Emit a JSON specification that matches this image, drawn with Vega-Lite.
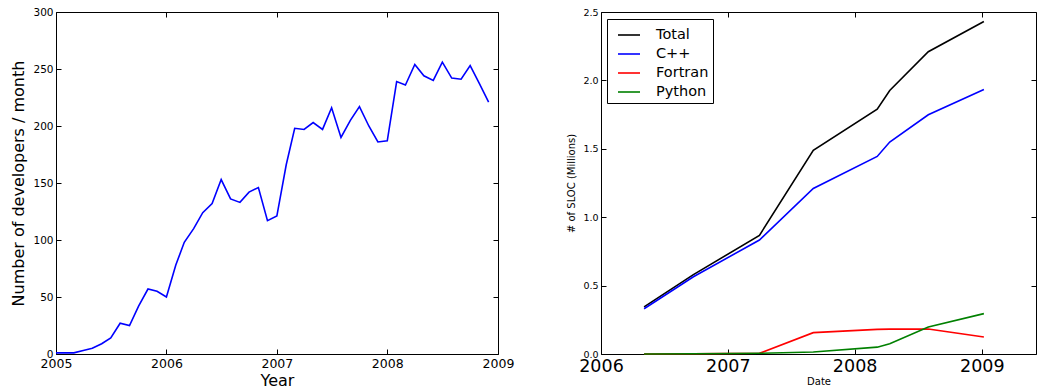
{
  "$schema": "https://vega.github.io/schema/vega-lite/v6.json",
  "padding": {"left": 10, "top": 6, "right": 0, "bottom": 0},
  "spacing": 51,
  "config": {
    "font": "DejaVu Sans",
    "view": {"stroke": "black", "strokeWidth": 1},
    "axis": {"grid": false, "domain": false, "tickColor": "black", "labelColor": "black", "titleColor": "black", "labelFont": "DejaVu Sans", "titleFont": "DejaVu Sans", "titleFontWeight": "normal", "tickSize": -5, "labelPadding": 8}
  },
  "datasets": {
    "devs": [
      {"month": "2005-01-01", "devs": 1}, {"month": "2005-02-01", "devs": 1}, {"month": "2005-03-01", "devs": 1},
      {"month": "2005-04-01", "devs": 3}, {"month": "2005-05-01", "devs": 5}, {"month": "2005-06-01", "devs": 9},
      {"month": "2005-07-01", "devs": 14}, {"month": "2005-08-01", "devs": 27}, {"month": "2005-09-01", "devs": 25},
      {"month": "2005-10-01", "devs": 42}, {"month": "2005-11-01", "devs": 57}, {"month": "2005-12-01", "devs": 55},
      {"month": "2006-01-01", "devs": 50}, {"month": "2006-02-01", "devs": 78}, {"month": "2006-03-01", "devs": 98},
      {"month": "2006-04-01", "devs": 110}, {"month": "2006-05-01", "devs": 124}, {"month": "2006-06-01", "devs": 132},
      {"month": "2006-07-01", "devs": 153}, {"month": "2006-08-01", "devs": 136}, {"month": "2006-09-01", "devs": 133},
      {"month": "2006-10-01", "devs": 142}, {"month": "2006-11-01", "devs": 146}, {"month": "2006-12-01", "devs": 117},
      {"month": "2007-01-01", "devs": 121}, {"month": "2007-02-01", "devs": 166}, {"month": "2007-03-01", "devs": 198},
      {"month": "2007-04-01", "devs": 197}, {"month": "2007-05-01", "devs": 203}, {"month": "2007-06-01", "devs": 197},
      {"month": "2007-07-01", "devs": 216}, {"month": "2007-08-01", "devs": 190}, {"month": "2007-09-01", "devs": 205},
      {"month": "2007-10-01", "devs": 217}, {"month": "2007-11-01", "devs": 200}, {"month": "2007-12-01", "devs": 186},
      {"month": "2008-01-01", "devs": 187}, {"month": "2008-02-01", "devs": 239}, {"month": "2008-03-01", "devs": 236},
      {"month": "2008-04-01", "devs": 254}, {"month": "2008-05-01", "devs": 244}, {"month": "2008-06-01", "devs": 240},
      {"month": "2008-07-01", "devs": 256}, {"month": "2008-08-01", "devs": 242}, {"month": "2008-09-01", "devs": 241},
      {"month": "2008-10-01", "devs": 253}, {"month": "2008-11-01", "devs": 237}, {"month": "2008-12-01", "devs": 221}
    ],
    "sloc": [
      {"date": "2006-05-05", "lang": "Total", "sloc": 0.344},
      {"date": "2006-09-24", "lang": "Total", "sloc": 0.58},
      {"date": "2007-04-02", "lang": "Total", "sloc": 0.867},
      {"date": "2007-09-04", "lang": "Total", "sloc": 1.489},
      {"date": "2008-03-06", "lang": "Total", "sloc": 1.79},
      {"date": "2008-04-11", "lang": "Total", "sloc": 1.926},
      {"date": "2008-07-31", "lang": "Total", "sloc": 2.21},
      {"date": "2009-01-07", "lang": "Total", "sloc": 2.43},
      {"date": "2006-05-05", "lang": "C++", "sloc": 0.331},
      {"date": "2006-09-24", "lang": "C++", "sloc": 0.565},
      {"date": "2007-04-02", "lang": "C++", "sloc": 0.833},
      {"date": "2007-09-04", "lang": "C++", "sloc": 1.21},
      {"date": "2008-03-06", "lang": "C++", "sloc": 1.444},
      {"date": "2008-04-11", "lang": "C++", "sloc": 1.549},
      {"date": "2008-07-31", "lang": "C++", "sloc": 1.749},
      {"date": "2009-01-07", "lang": "C++", "sloc": 1.934},
      {"date": "2006-05-05", "lang": "Fortran", "sloc": 0.0},
      {"date": "2006-09-24", "lang": "Fortran", "sloc": 0.002},
      {"date": "2007-04-02", "lang": "Fortran", "sloc": 0.005},
      {"date": "2007-09-04", "lang": "Fortran", "sloc": 0.156},
      {"date": "2008-03-06", "lang": "Fortran", "sloc": 0.18},
      {"date": "2008-04-11", "lang": "Fortran", "sloc": 0.182},
      {"date": "2008-07-31", "lang": "Fortran", "sloc": 0.183},
      {"date": "2009-01-07", "lang": "Fortran", "sloc": 0.124},
      {"date": "2006-05-05", "lang": "Python", "sloc": 0.0},
      {"date": "2006-09-24", "lang": "Python", "sloc": 0.002},
      {"date": "2007-04-02", "lang": "Python", "sloc": 0.005},
      {"date": "2007-09-04", "lang": "Python", "sloc": 0.015},
      {"date": "2008-03-06", "lang": "Python", "sloc": 0.05},
      {"date": "2008-04-11", "lang": "Python", "sloc": 0.075},
      {"date": "2008-07-31", "lang": "Python", "sloc": 0.197},
      {"date": "2009-01-07", "lang": "Python", "sloc": 0.295}
    ]
  },
  "hconcat": [
    {
      "width": 442,
      "height": 342,
      "data": {"name": "devs"},
      "resolve": {"axis": {"x": "independent", "y": "independent"}},
      "layer": [
        {
          "mark": {"type": "line", "color": "#0000ff", "strokeWidth": 1.6},
          "encoding": {
            "x": {"field": "month", "type": "temporal",
              "scale": {"type": "utc", "domain": [{"year": 2005, "utc": true}, {"year": 2009, "utc": true}]},
              "axis": {"orient": "bottom", "title": "Year", "format": "%Y", "values": [{"year": 2005, "utc": true}, {"year": 2006, "utc": true}, {"year": 2007, "utc": true}, {"year": 2008, "utc": true}, {"year": 2009, "utc": true}], "labelFontSize": 12.5, "titleFontSize": 16, "titlePadding": 3, "labelFlush": false, "labelOverlap": false}},
            "y": {"field": "devs", "type": "quantitative",
              "scale": {"domain": [0, 300], "nice": false},
              "axis": {"orient": "left", "title": "Number of developers / month", "values": [0, 50, 100, 150, 200, 250, 300], "labelFontSize": 10.5, "titleFontSize": 16, "titlePadding": 6}}
          }
        },
        {
          "mark": {"type": "line", "strokeOpacity": 0},
          "encoding": {
            "x": {"field": "month", "type": "temporal",
              "axis": {"orient": "top", "title": null, "labels": false, "values": [{"year": 2005, "utc": true}, {"year": 2006, "utc": true}, {"year": 2007, "utc": true}, {"year": 2008, "utc": true}, {"year": 2009, "utc": true}]}},
            "y": {"field": "devs", "type": "quantitative",
              "axis": {"orient": "right", "title": null, "labels": false, "values": [0, 50, 100, 150, 200, 250, 300]}}
          }
        }
      ]
    },
    {
      "width": 435,
      "height": 342,
      "data": {"name": "sloc"},
      "resolve": {"axis": {"x": "independent", "y": "independent"}},
      "layer": [
        {
          "mark": {"type": "line", "strokeWidth": 1.6},
          "encoding": {
            "x": {"field": "date", "type": "temporal",
              "scale": {"type": "utc", "domain": [{"year": 2006, "utc": true}, {"year": 2009, "month": 6, "date": 6, "utc": true}]},
              "axis": {"orient": "bottom", "title": "Date", "format": "%Y", "values": [{"year": 2006, "utc": true}, {"year": 2007, "utc": true}, {"year": 2008, "utc": true}, {"year": 2009, "utc": true}], "labelFontSize": 17.5, "titleFontSize": 10, "titlePadding": 2, "labelFlush": false, "labelOverlap": false}},
            "y": {"field": "sloc", "type": "quantitative",
              "scale": {"domain": [0, 2.5], "nice": false},
              "axis": {"orient": "left", "title": "# of SLOC (Millions)", "format": ".1f", "values": [0, 0.5, 1, 1.5, 2, 2.5], "labelFontSize": 9.5, "titleFontSize": 10, "titlePadding": 6}},
            "color": {"field": "lang", "type": "nominal",
              "scale": {"domain": ["Total", "C++", "Fortran", "Python"], "range": ["#000000", "#0000ff", "#ff0000", "#008000"]},
              "legend": {"orient": "none", "legendX": 551, "legendY": 7, "title": null, "padding": 4, "symbolOffset": 6, "labelOffset": 15, "strokeColor": "black", "fillColor": "white", "symbolType": "stroke", "symbolStrokeWidth": 1.6, "symbolSize": 484, "labelFontSize": 14.5, "labelColor": "black", "labelFont": "DejaVu Sans", "rowPadding": 0, "cornerRadius": 0}},
            "detail": {"field": "lang"}
          }
        },
        {
          "mark": {"type": "line", "strokeOpacity": 0},
          "encoding": {
            "x": {"field": "date", "type": "temporal",
              "axis": {"orient": "top", "title": null, "labels": false, "values": [{"year": 2006, "utc": true}, {"year": 2007, "utc": true}, {"year": 2008, "utc": true}, {"year": 2009, "utc": true}]}},
            "y": {"field": "sloc", "type": "quantitative",
              "axis": {"orient": "right", "title": null, "labels": false, "values": [0, 0.5, 1, 1.5, 2, 2.5]}},
            "detail": {"field": "lang"}
          }
        }
      ]
    }
  ]
}
